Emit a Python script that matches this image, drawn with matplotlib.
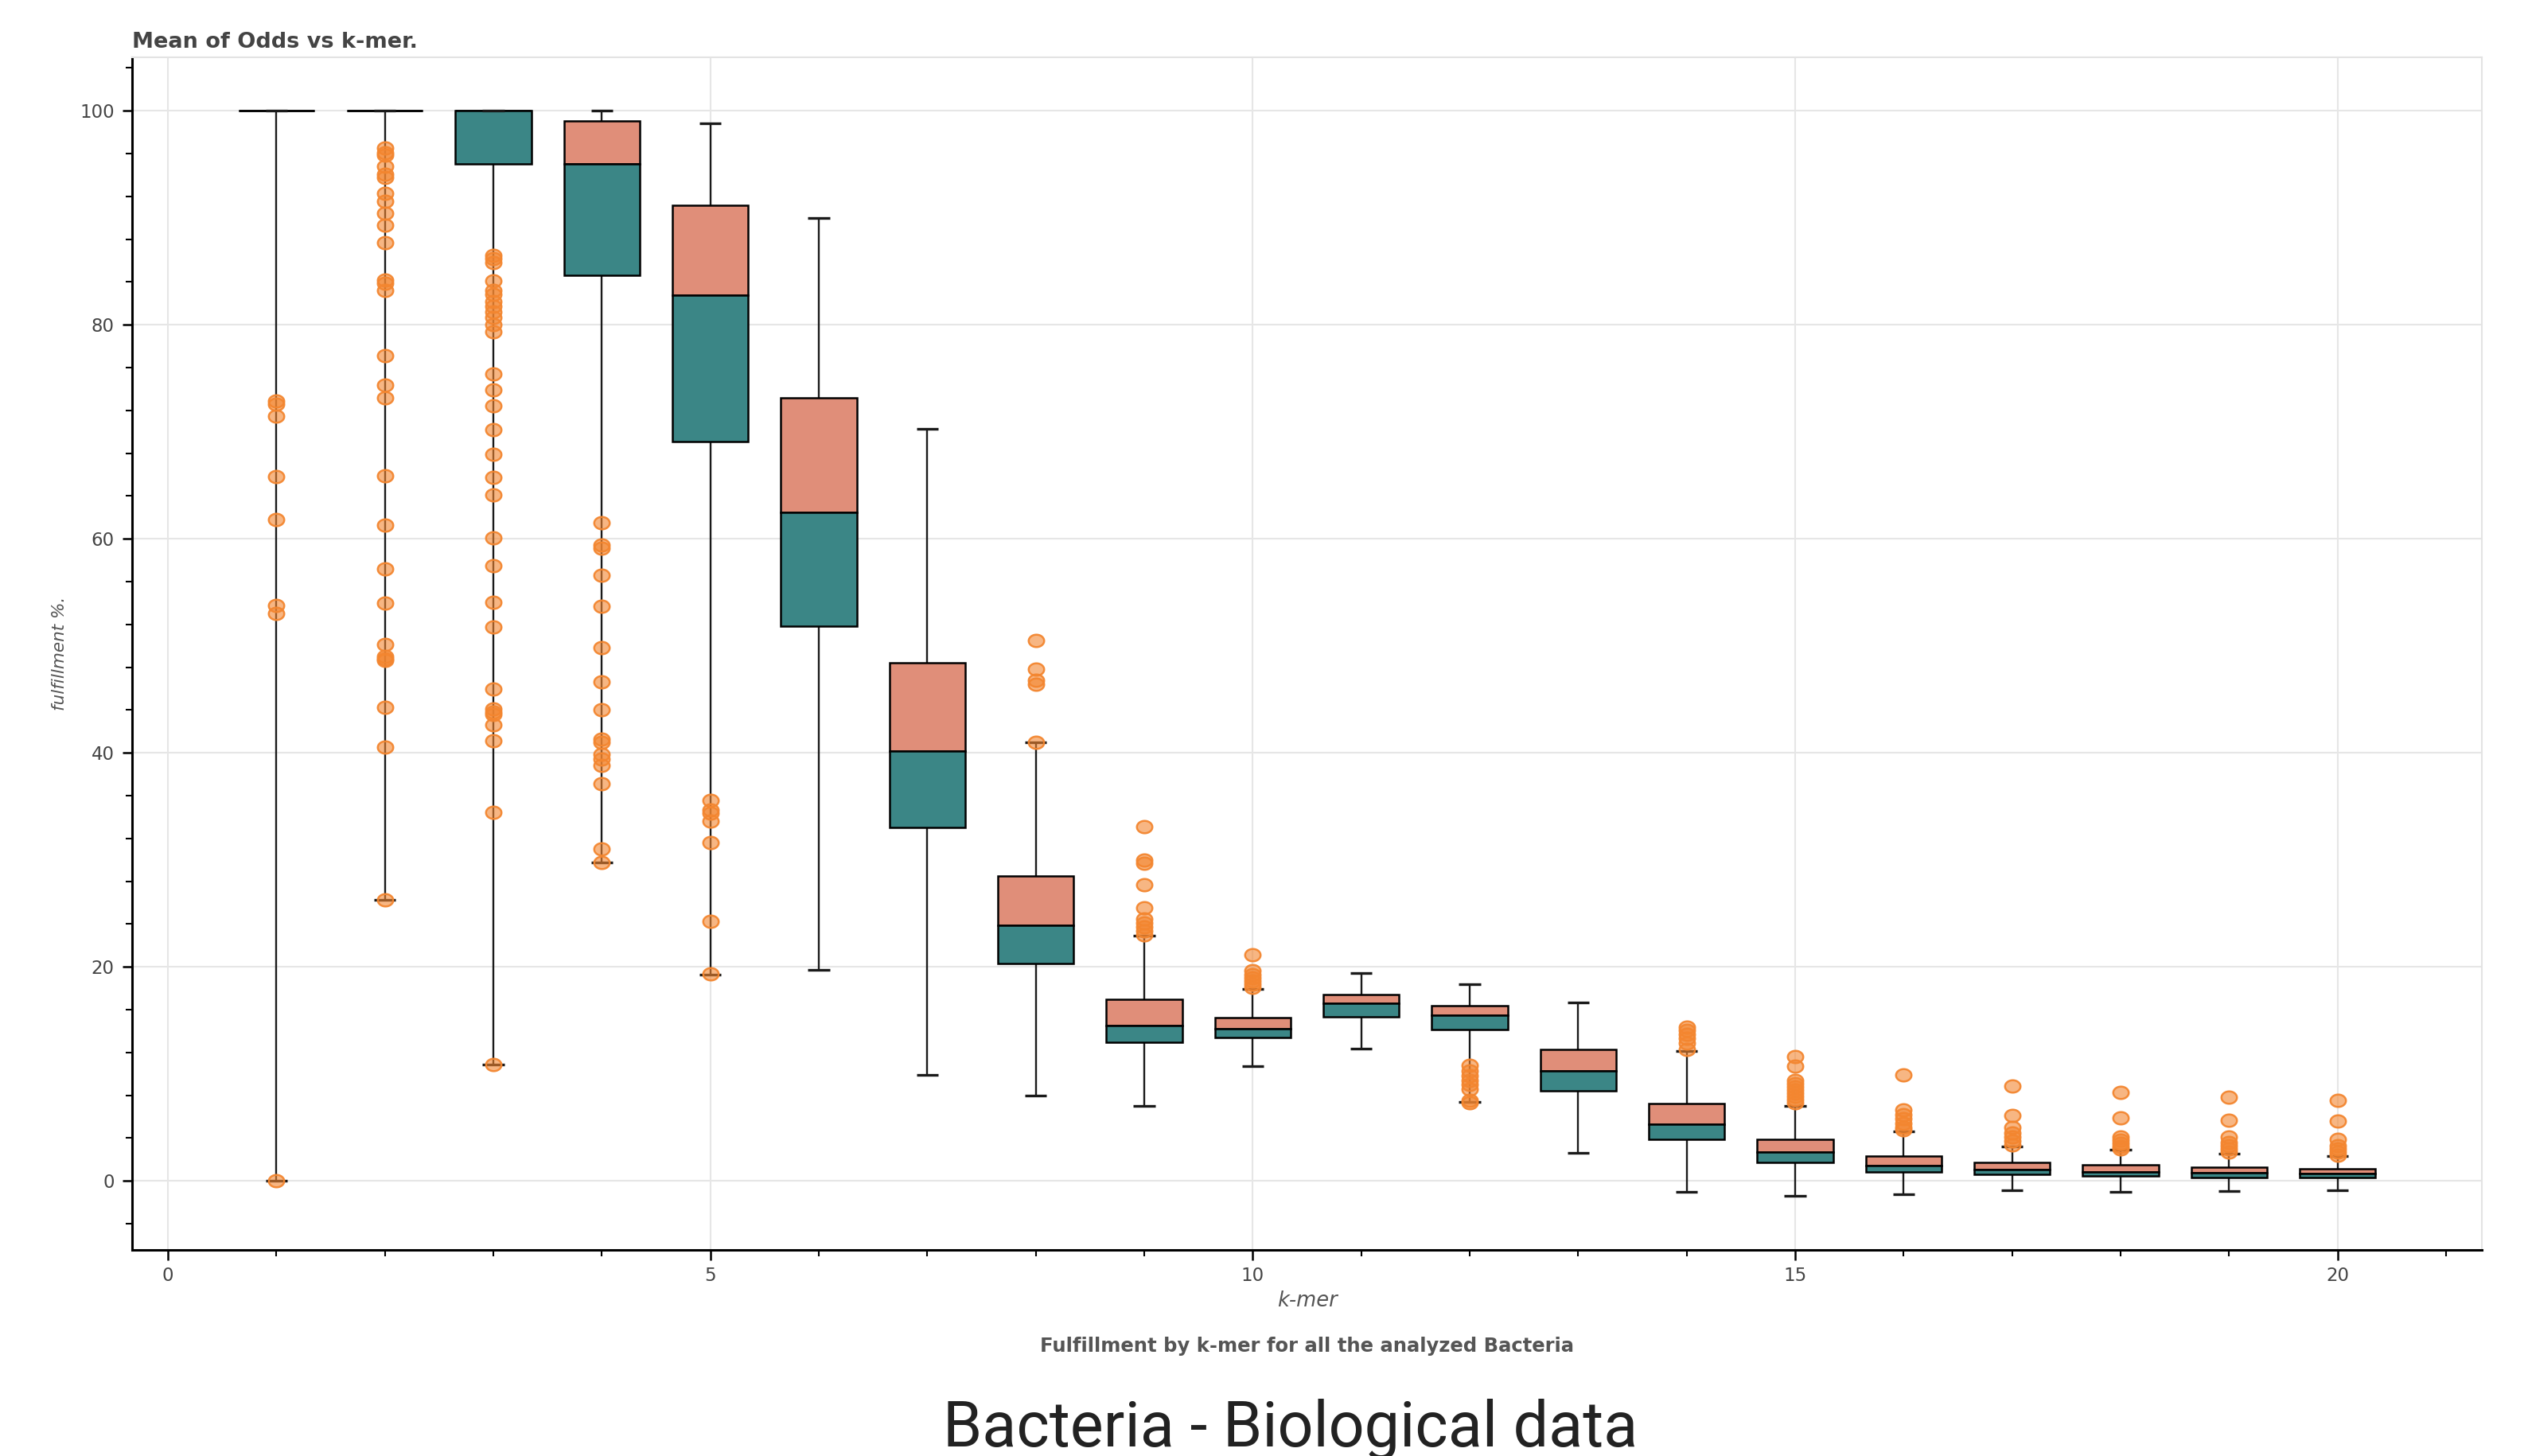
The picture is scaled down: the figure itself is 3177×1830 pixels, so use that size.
import numpy as np
import matplotlib.pyplot as plt
from matplotlib.path import Path
from matplotlib.ticker import MultipleLocator

# --- adatok: kvartilisek és bajuszok k-mer szerint ---
kmer = list(range(1, 21))
q1 = [100, 100, 95.05, 84.6, 69.1, 51.85, 33.05, 20.35, 12.95, 13.4,
      15.35, 14.15, 8.4, 3.9, 1.75, 0.8, 0.6, 0.45, 0.35, 0.35]
q2 = [100, 100, 100, 95.05, 82.75, 62.5, 40.15, 23.85, 14.5, 14.2,
      16.6, 15.5, 10.3, 5.3, 2.7, 1.4, 1.05, 0.87, 0.75, 0.67]
q3 = [100, 100, 100, 99.05, 91.15, 73.15, 48.4, 28.5, 17.0, 15.25,
      17.4, 16.4, 12.3, 7.2, 3.9, 2.3, 1.7, 1.5, 1.3, 1.17]
upper = [100, 100, 100, 100, 98.8, 90.0, 70.3, 40.95, 22.95, 17.95,
         19.4, 18.4, 16.7, 12.15, 7.0, 4.65, 3.2, 2.9, 2.55, 2.3]
lower = [0, 26.3, 10.85, 29.75, 19.3, 19.7, 9.9, 7.95, 7.0, 10.7,
         12.35, 7.4, 2.65, -1.0, -1.4, -1.25, -0.9, -1.0, -0.95, -0.9]

# kiugró pontok k-mer szerint
outliers = [
    [72.9, 72.55, 71.5, 65.8, 61.8, 53.8, 53.0, 0.0],
    [96.55, 96.1, 95.85, 94.85, 94.1, 93.8, 92.3, 91.55, 90.4, 89.3, 87.65,
     84.2, 83.85, 83.2, 77.1, 74.4, 73.2, 65.9, 61.3, 57.2, 54.0, 50.15,
     49.0, 48.8, 48.65, 44.25, 40.55, 26.3],
    [86.5, 86.2, 85.8, 84.1, 83.2, 82.85, 82.2, 81.7, 81.2, 80.7, 80.0,
     79.35, 75.4, 73.9, 72.4, 70.2, 67.9, 65.75, 64.1, 60.1, 57.5, 54.1,
     51.8, 45.95, 44.1, 43.8, 43.55, 42.6, 41.1, 34.45, 10.9],
    [61.5, 59.4, 59.1, 56.6, 53.7, 49.8, 46.6, 44.0, 41.25, 41.0, 39.85,
     39.4, 38.8, 37.1, 31.0, 29.75],
    [35.55, 34.7, 34.4, 33.65, 31.6, 24.25, 19.35],
    [],
    [],
    [50.5, 47.8, 46.8, 46.4, 40.95],
    [33.1, 30.0, 29.7, 27.65, 25.5, 24.45, 24.1, 23.7, 23.35, 23.0],
    [21.1, 19.65, 19.3, 19.0, 18.7, 18.4, 18.1],
    [],
    [10.8, 10.3, 9.8, 9.4, 9.0, 8.6, 7.5, 7.3],
    [],
    [14.4, 14.1, 13.7, 13.3, 12.9, 12.3],
    [11.65, 10.7, 9.4, 9.1, 8.8, 8.5, 8.2, 7.9, 7.6, 7.3],
    [9.9, 6.6, 6.2, 5.8, 5.4, 5.0, 4.8],
    [8.9, 6.15, 5.0, 4.5, 4.1, 3.7, 3.4],
    [8.3, 5.9, 4.1, 3.8, 3.5, 3.2, 3.0],
    [7.8, 5.65, 4.1, 3.6, 3.3, 3.0, 2.7],
    [7.55, 5.6, 3.9, 3.3, 3.0, 2.7, 2.4],
]

TEAL = "#3B8686"
SALMON = "#E08E79"
TXT = "#444444"

plt.rcParams['font.family'] = ['DejaVu Sans']

fig = plt.figure(figsize=(31.77, 18.30), dpi=100)
ax = fig.add_axes([0.05225, 0.14153, 0.92949, 0.81913])

k = np.array(kmer)
q1a, q2a, q3a = np.array(q1), np.array(q2), np.array(q3)

# bajuszok
ax.vlines(k, q3a, upper, color="#1a1a1a", lw=1.7, zorder=2)
ax.vlines(k, lower, q1a, color="#1a1a1a", lw=1.7, zorder=2)

# dobozok (q1-q2 teal, q2-q3 lazac)
ax.bar(k, q3a - q2a, 0.7, bottom=q2a, color=SALMON, edgecolor="black", lw=1.8, zorder=3)
ax.bar(k, q2a - q1a, 0.7, bottom=q1a, color=TEAL, edgecolor="black", lw=1.8, zorder=3)

# bajusz végek
ax.hlines(upper, k - 0.1, k + 0.1, color="#1a1a1a", lw=2.4, zorder=4)
ax.hlines(lower, k - 0.1, k + 0.1, color="#1a1a1a", lw=2.4, zorder=4)

# kiugró pontok, enyhén elnyújtott körök
t = np.linspace(0, 2 * np.pi, 60)
ell = Path(np.column_stack([1.25 * np.cos(t), np.sin(t)]), closed=True)
ox = [kk for kk, vals in zip(kmer, outliers) for _ in vals]
oy = [v for vals in outliers for v in vals]
ax.plot(ox, oy, linestyle="none", marker=ell, ms=14,
        mfc=(0.953, 0.525, 0.188, 0.6), mec=(0.953, 0.525, 0.188, 0.95),
        mew=1.8, zorder=5)

ax.set_xlim(-0.33, 21.33)
ax.set_ylim(-6.45, 105.0)
ax.xaxis.set_major_locator(MultipleLocator(5))
ax.xaxis.set_minor_locator(MultipleLocator(1))
ax.yaxis.set_major_locator(MultipleLocator(20))
ax.yaxis.set_minor_locator(MultipleLocator(4))

ax.grid(True, which="major", color="#e6e6e6", lw=1.5, zorder=0)
ax.set_axisbelow(True)

for s in ["left", "bottom"]:
    ax.spines[s].set_color("black")
    ax.spines[s].set_linewidth(2.2)
for s in ["top", "right"]:
    ax.spines[s].set_color("#e3e3e3")
    ax.spines[s].set_linewidth(1.5)

ax.tick_params(which="major", direction="out", length=9, width=1.8,
               labelsize=16.5, labelcolor=TXT, color="black")
ax.tick_params(which="minor", direction="out", length=6, width=1.5, color="black")
ax.tick_params(axis="x", which="major", pad=6)
ax.tick_params(axis="y", which="major", pad=7)

# szövegek
fig.text(166 / 3177, 1 - 60 / 1830, "Mean of Odds vs k-mer.", fontsize=19.5,
         fontweight="bold", color=TXT, ha="left", va="baseline")
fig.text(75 / 3177, 1 - 821 / 1830, "fulfillment %.", fontsize=15.5,
         style="italic", color="#555555", rotation=90, ha="center", va="center")
fig.text(1643 / 3177, 1 - 1642 / 1830, "k-mer", fontsize=18.5, style="italic",
         color="#555555", ha="center", va="baseline")
fig.text(1643 / 3177, 1 - 1699 / 1830,
         "Fulfillment by k-mer for all the analyzed Bacteria", fontsize=17.5,
         fontweight="bold", color="#555555", ha="center", va="baseline")
fig.text(1622 / 3177, 1 - 1818 / 1830, "Bacteria - Biological data",
         fontsize=57, family="Roboto", color="#222222", ha="center", va="baseline")

fig.savefig("out.png", dpi=100)
